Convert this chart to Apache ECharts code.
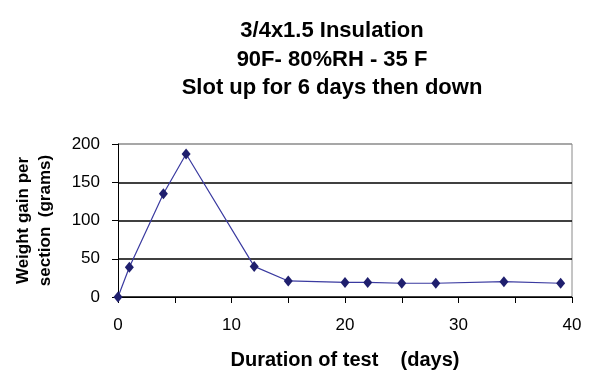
<!DOCTYPE html>
<html><head><meta charset="utf-8">
<script src="https://cdn.jsdelivr.net/npm/echarts@6/dist/echarts.min.js"></script>
<style>html,body{margin:0;padding:0;background:#fff}#c{width:600px;height:392px}</style>
</head><body><div id="c"></div>
<script>
const days = [0, 1, 4, 6, 12, 15, 20, 22, 25, 28, 34, 39];
const weightGain = [0, 39, 135, 187, 40, 21, 19, 19, 18, 18, 20, 18];
const xTicks = [0, 10, 20, 30, 40];
const yTicks = [0, 50, 100, 150, 200];
const titleLines = ["3/4x1.5 Insulation", "90F- 80%RH - 35 F", "Slot up for 6 days then down"];
const yTitle = "Weight gain per\nsection  (grams)";
const xTitle = "Duration of test    (days)";

const chart = echarts.init(document.getElementById('c'));
const font = 'Liberation Sans, Arial, sans-serif';
chart.setOption({
  animation: false,
  title: {
    text: titleLines.join('\n'),
    left: 327, top: 12, textAlign: 'center',
    textStyle: {fontFamily: font, fontWeight: 'bold', fontSize: 22, lineHeight: 28.5, color: '#000'}
  },
  grid: {left: 118, right: 28, top: 144, bottom: 95},
  xAxis: {
    type: 'value', min: 0, max: 40, interval: 5,
    name: xTitle, nameLocation: 'middle', nameGap: 53,
    nameTextStyle: {fontFamily: font, fontWeight: 'bold', fontSize: 20, color: '#000'},
    axisLine: {lineStyle: {color: '#000', width: 1}},
    axisTick: {show: true, length: 6, lineStyle: {color: '#000'}},
    axisLabel: {fontFamily: font, fontSize: 17, color: '#000', margin: 20,
      formatter: v => xTicks.indexOf(v) >= 0 ? String(v) : ''},
    splitLine: {show: false}
  },
  yAxis: {
    type: 'value', min: 0, max: 200, interval: 50,
    name: yTitle, nameLocation: 'middle', nameGap: 62, nameRotate: 90,
    nameTextStyle: {fontFamily: font, fontWeight: 'bold', fontSize: 17, lineHeight: 22, color: '#000'},
    axisLine: {show: true, lineStyle: {color: '#000', width: 1}},
    axisTick: {show: true, length: 6, lineStyle: {color: '#000'}},
    axisLabel: {fontFamily: font, fontSize: 17, color: '#000', margin: 18,
      formatter: v => yTicks.indexOf(v) >= 0 ? String(v) : ''},
    splitLine: {show: true, lineStyle: {color: ['#000', '#000', '#000', '#000', '#8a8a8a'], width: 1.5}}
  },
  series: [{
    type: 'line',
    data: days.map((d, i) => [d, weightGain[i]]),
    symbol: 'diamond', symbolSize: [9, 11],
    itemStyle: {color: '#1f1f6e'},
    lineStyle: {color: '#3a3aa0', width: 1.2}
  }],
  graphic: [{
    type: 'line', shape: {x1: 572, y1: 144, x2: 572, y2: 297},
    style: {stroke: '#8a8a8a', lineWidth: 1}
  }]
});
</script></body></html>
